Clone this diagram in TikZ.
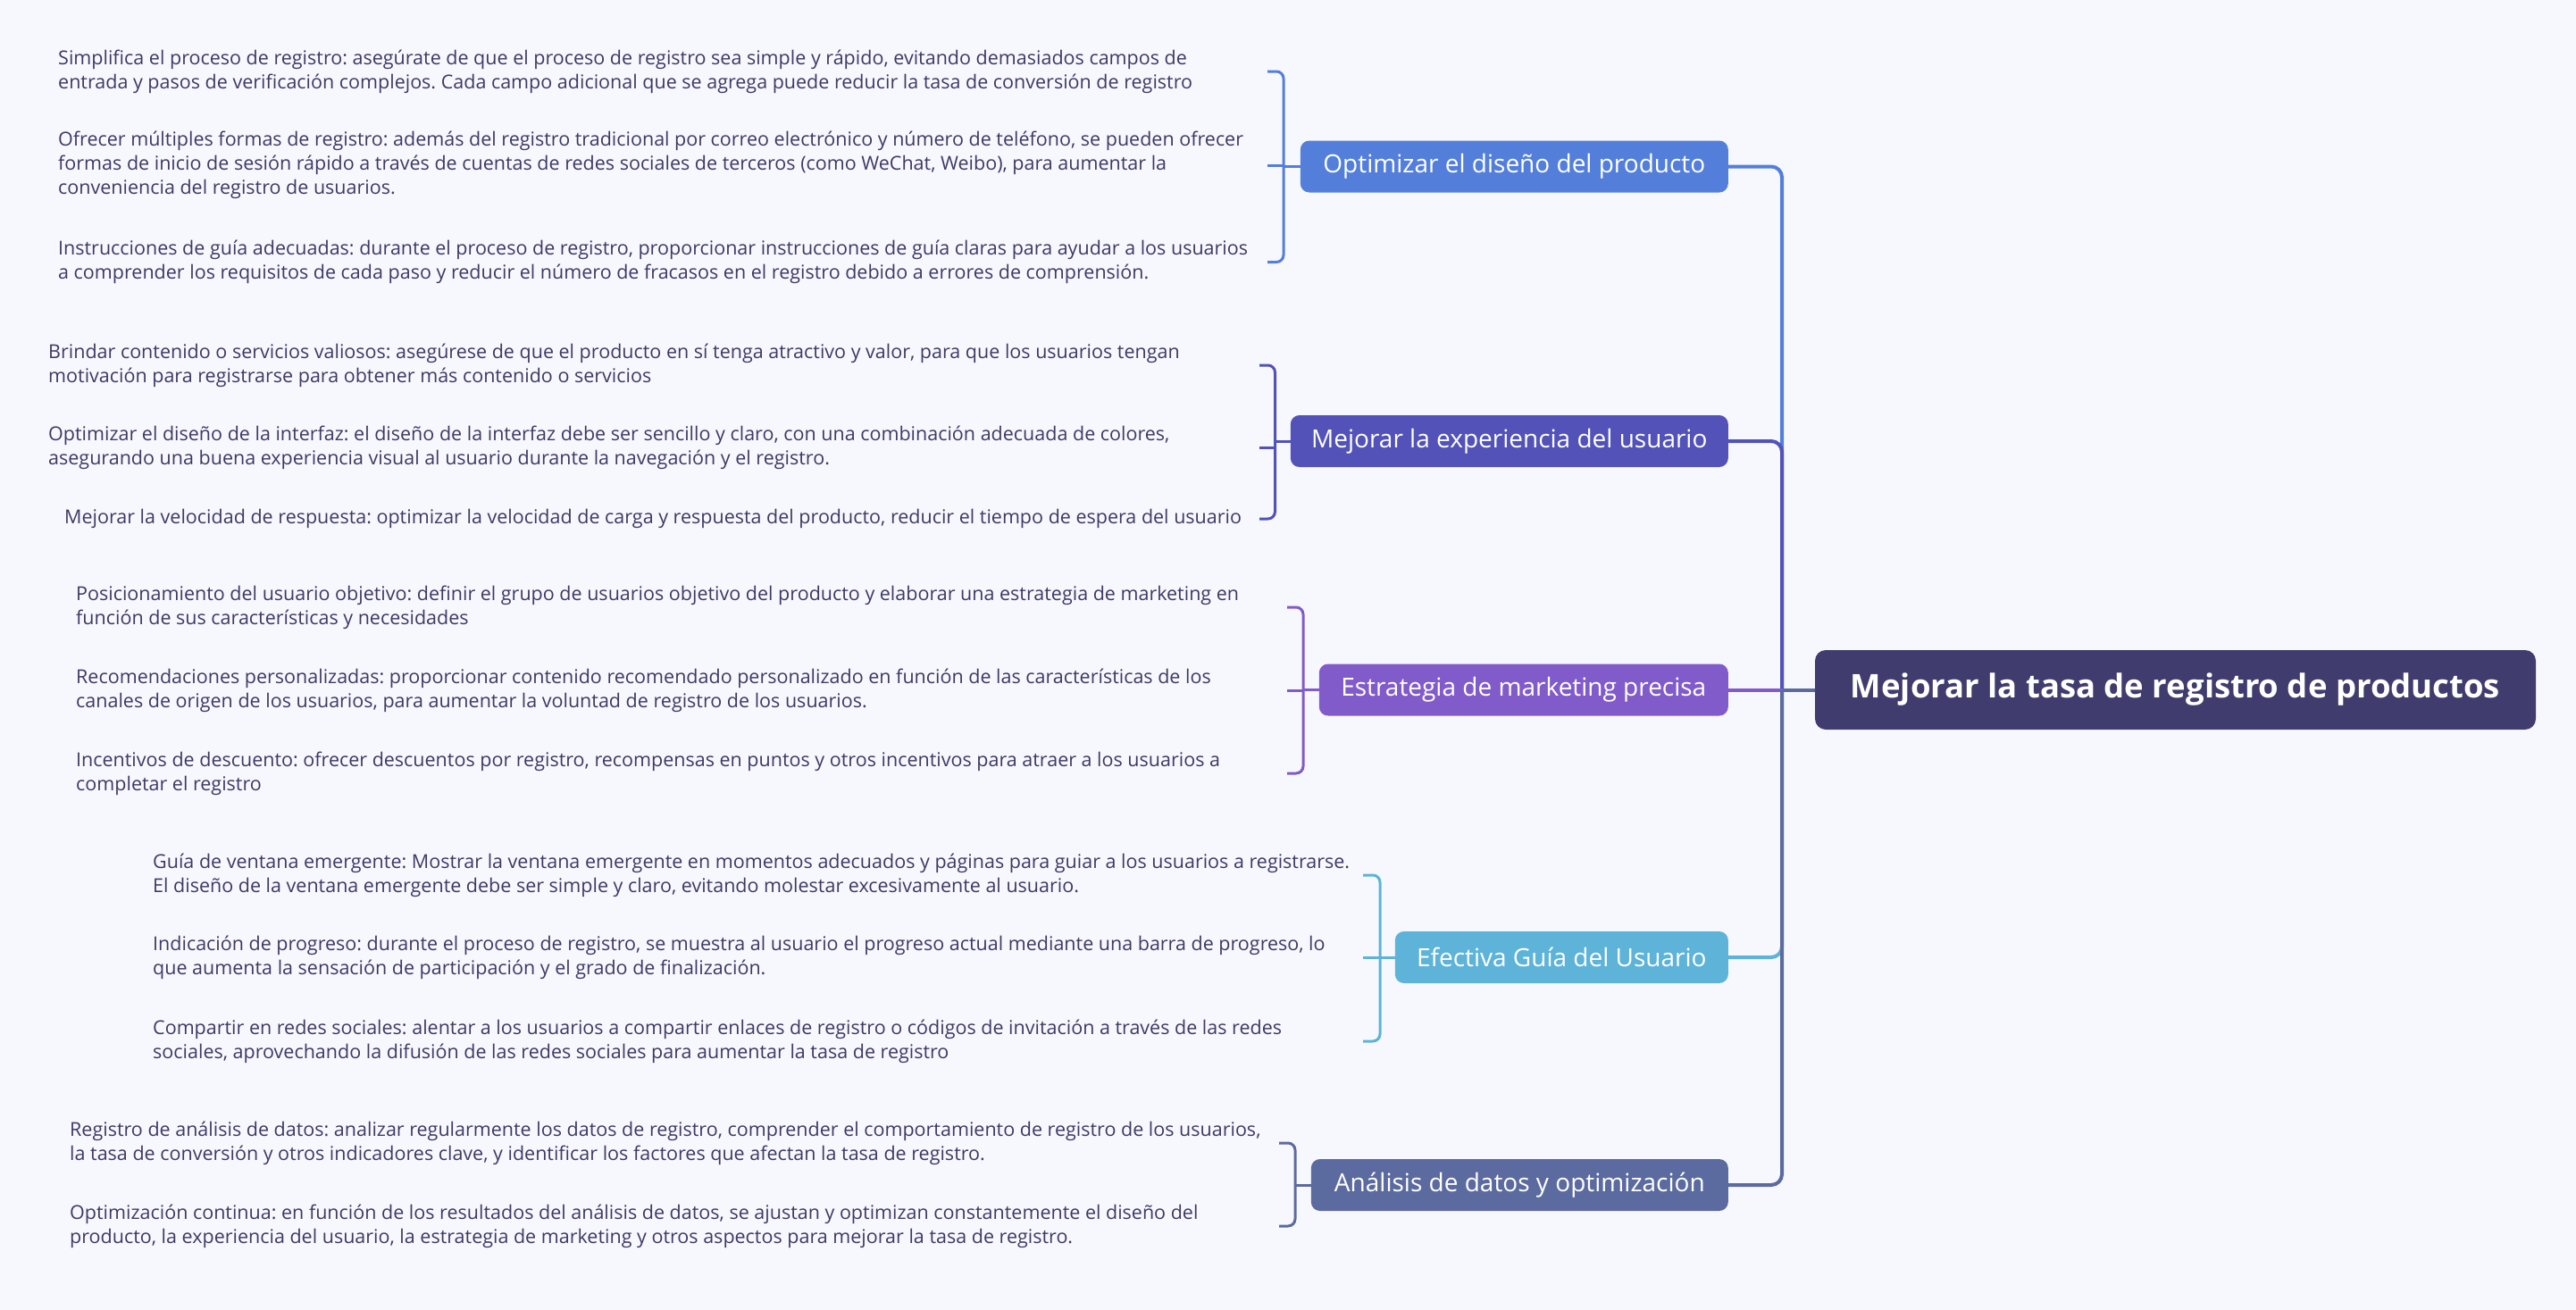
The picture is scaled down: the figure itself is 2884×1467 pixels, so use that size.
\documentclass[tikz,border=0pt]{standalone}
\usepackage{fontspec}
\setmainfont{Open Sans}
\usepackage{tikz}
\usetikzlibrary{positioning, calc}
\frenchspacing

\definecolor{bgcol}{HTML}{F7F8FE}
\definecolor{txtcol}{HTML}{3C3A64}
\definecolor{rootcol}{HTML}{403D6E}
\definecolor{cdiseno}{HTML}{537FDB}
\definecolor{cexper}{HTML}{5252B9}
\definecolor{cmarket}{HTML}{825BCB}
\definecolor{cguia}{HTML}{5EB3D9}
\definecolor{cdatos}{HTML}{5C6B9F}

\tikzset{
  leaf/.style={anchor=west, align=left, inner sep=0pt, text=txtcol,
    font=\fontsize{21.5}{27}\selectfont},
  topic/.style={anchor=east, fill=#1, rounded corners=10pt, text=white,
    minimum height=58pt, inner sep=0pt, font=\fontsize{28}{32}\selectfont},
  rootbox/.style={fill=rootcol, rounded corners=12pt, text=white,
    minimum width=807pt, minimum height=89pt, font=\bfseries\fontsize{36.5}{42}\selectfont},
  brace/.style={line width=3pt, rounded corners=8pt},
  link/.style={line width=4pt, rounded corners=12pt},
}

\begin{document}
\begin{tikzpicture}[x=1pt, y=-1pt]
  % fondo
  \fill[bgcol] (0,0) rectangle (2884,1467);
  \useasboundingbox (0,0) rectangle (2884,1467);

  % idea central
  \node[rootbox] (root) at (2435.5,772.5) {Mejorar la tasa de registro de productos};
  \coordinate (trunk) at (1995,772.5);

  % ramas principales
  \node[topic=cdiseno, minimum width=479pt] (b1) at (1935,186.5) {Optimizar el diseño del producto};
  \node[topic=cexper, minimum width=490pt] (b2) at (1935,494) {Mejorar la experiencia del usuario};
  \node[topic=cmarket, minimum width=458pt] (b3) at (1935,772.5) {Estrategia de marketing precisa};
  \node[topic=cguia, minimum width=373pt] (b4) at (1935,1072) {Efectiva Guía del Usuario};
  \node[topic=cdatos, minimum width=467pt] (b5) at (1935,1327) {Análisis de datos y optimización};

  % conectores hacia la idea central
  \draw[link, cdiseno] (b1.east) -| (trunk);
  \draw[link, cexper] (b2.east) -| (trunk);
  \draw[link, cmarket] (b3.east) -- (trunk);
  \draw[link, cguia] (b4.east) -| (trunk);
  \draw[link, cdatos] (b5.east) -| (trunk);
  \draw[link, cdatos] (trunk) -- (root.west);

  % 1. diseño del producto
  \node[leaf] (l1a) at (65,80) {Simplifica el proceso de registro: asegúrate de que el proceso de registro sea simple y rápido, evitando demasiados campos de\\entrada y pasos de verificación complejos. Cada campo adicional que se agrega puede reducir la tasa de conversión de registro};
  \node[leaf] (l1b) at (65,185) {Ofrecer múltiples formas de registro: además del registro tradicional por correo electrónico y número de teléfono, se pueden ofrecer\\formas de inicio de sesión rápido a través de cuentas de redes sociales de terceros (como WeChat, Weibo), para aumentar la\\conveniencia del registro de usuarios.};
  \node[leaf] (l1c) at (65,293.5) {Instrucciones de guía adecuadas: durante el proceso de registro, proporcionar instrucciones de guía claras para ayudar a los usuarios\\a comprender los requisitos de cada paso y reducir el número de fracasos en el registro debido a errores de comprensión.};
  \coordinate (h1) at (1419,0);
  \coordinate (v1) at (1437,0);
  \draw[brace, cdiseno] (l1a -| h1) -- (l1a -| v1) -- (l1c -| v1) -- (l1c -| h1);
  \draw[brace, cdiseno] (l1b -| h1) -- (l1b -| v1);
  \draw[brace, cdiseno] (b1 -| v1) -- (b1.west);

  % 2. experiencia del usuario
  \node[leaf] (l2a) at (54,409) {Brindar contenido o servicios valiosos: asegúrese de que el producto en sí tenga atractivo y valor, para que los usuarios tengan\\motivación para registrarse para obtener más contenido o servicios};
  \node[leaf] (l2b) at (54,501) {Optimizar el diseño de la interfaz: el diseño de la interfaz debe ser sencillo y claro, con una combinación adecuada de colores,\\asegurando una buena experiencia visual al usuario durante la navegación y el registro.};
  \node[leaf] (l2c) at (72,581) {Mejorar la velocidad de respuesta: optimizar la velocidad de carga y respuesta del producto, reducir el tiempo de espera del usuario};
  \coordinate (h2) at (1410,0);
  \coordinate (v2) at (1427.5,0);
  \draw[brace, cexper] (l2a -| h2) -- (l2a -| v2) -- (l2c -| v2) -- (l2c -| h2);
  \draw[brace, cexper] (l2b -| h2) -- (l2b -| v2);
  \draw[brace, cexper] (b2 -| v2) -- (b2.west);

  % 3. marketing
  \node[leaf] (l3a) at (85,680) {Posicionamiento del usuario objetivo: definir el grupo de usuarios objetivo del producto y elaborar una estrategia de marketing en\\función de sus características y necesidades};
  \node[leaf] (l3b) at (85,773) {Recomendaciones personalizadas: proporcionar contenido recomendado personalizado en función de las características de los\\canales de origen de los usuarios, para aumentar la voluntad de registro de los usuarios.};
  \node[leaf] (l3c) at (85,866) {Incentivos de descuento: ofrecer descuentos por registro, recompensas en puntos y otros incentivos para atraer a los usuarios a\\completar el registro};
  \coordinate (h3) at (1441,0);
  \coordinate (v3) at (1459,0);
  \draw[brace, cmarket] (l3a -| h3) -- (l3a -| v3) -- (l3c -| v3) -- (l3c -| h3);
  \draw[brace, cmarket] (l3b -| h3) -- (l3b -| v3);
  \draw[brace, cmarket] (b3 -| v3) -- (b3.west);

  % 4. guía del usuario
  \node[leaf] (l4a) at (171,980) {Guía de ventana emergente: Mostrar la ventana emergente en momentos adecuados y páginas para guiar a los usuarios a registrarse.\\El diseño de la ventana emergente debe ser simple y claro, evitando molestar excesivamente al usuario.};
  \node[leaf] (l4b) at (171,1072) {Indicación de progreso: durante el proceso de registro, se muestra al usuario el progreso actual mediante una barra de progreso, lo\\que aumenta la sensación de participación y el grado de finalización.};
  \node[leaf] (l4c) at (171,1166) {Compartir en redes sociales: alentar a los usuarios a compartir enlaces de registro o códigos de invitación a través de las redes\\sociales, aprovechando la difusión de las redes sociales para aumentar la tasa de registro};
  \coordinate (h4) at (1526,0);
  \coordinate (v4) at (1545,0);
  \draw[brace, cguia] (l4a -| h4) -- (l4a -| v4) -- (l4c -| v4) -- (l4c -| h4);
  \draw[brace, cguia] (l4b -| h4) -- (l4b -| v4);
  \draw[brace, cguia] (b4 -| v4) -- (b4.west);

  % 5. análisis de datos
  \node[leaf] (l5a) at (78,1280) {Registro de análisis de datos: analizar regularmente los datos de registro, comprender el comportamiento de registro de los usuarios,\\la tasa de conversión y otros indicadores clave, y identificar los factores que afectan la tasa de registro.};
  \node[leaf] (l5b) at (78,1373) {Optimización continua: en función de los resultados del análisis de datos, se ajustan y optimizan constantemente el diseño del\\producto, la experiencia del usuario, la estrategia de marketing y otros aspectos para mejorar la tasa de registro.};
  \coordinate (h5) at (1432,0);
  \coordinate (v5) at (1450,0);
  \draw[brace, cdatos] (l5a -| h5) -- (l5a -| v5) -- (l5b -| v5) -- (l5b -| h5);
  \draw[brace, cdatos] (b5 -| v5) -- (b5.west);
\end{tikzpicture}
\end{document}
